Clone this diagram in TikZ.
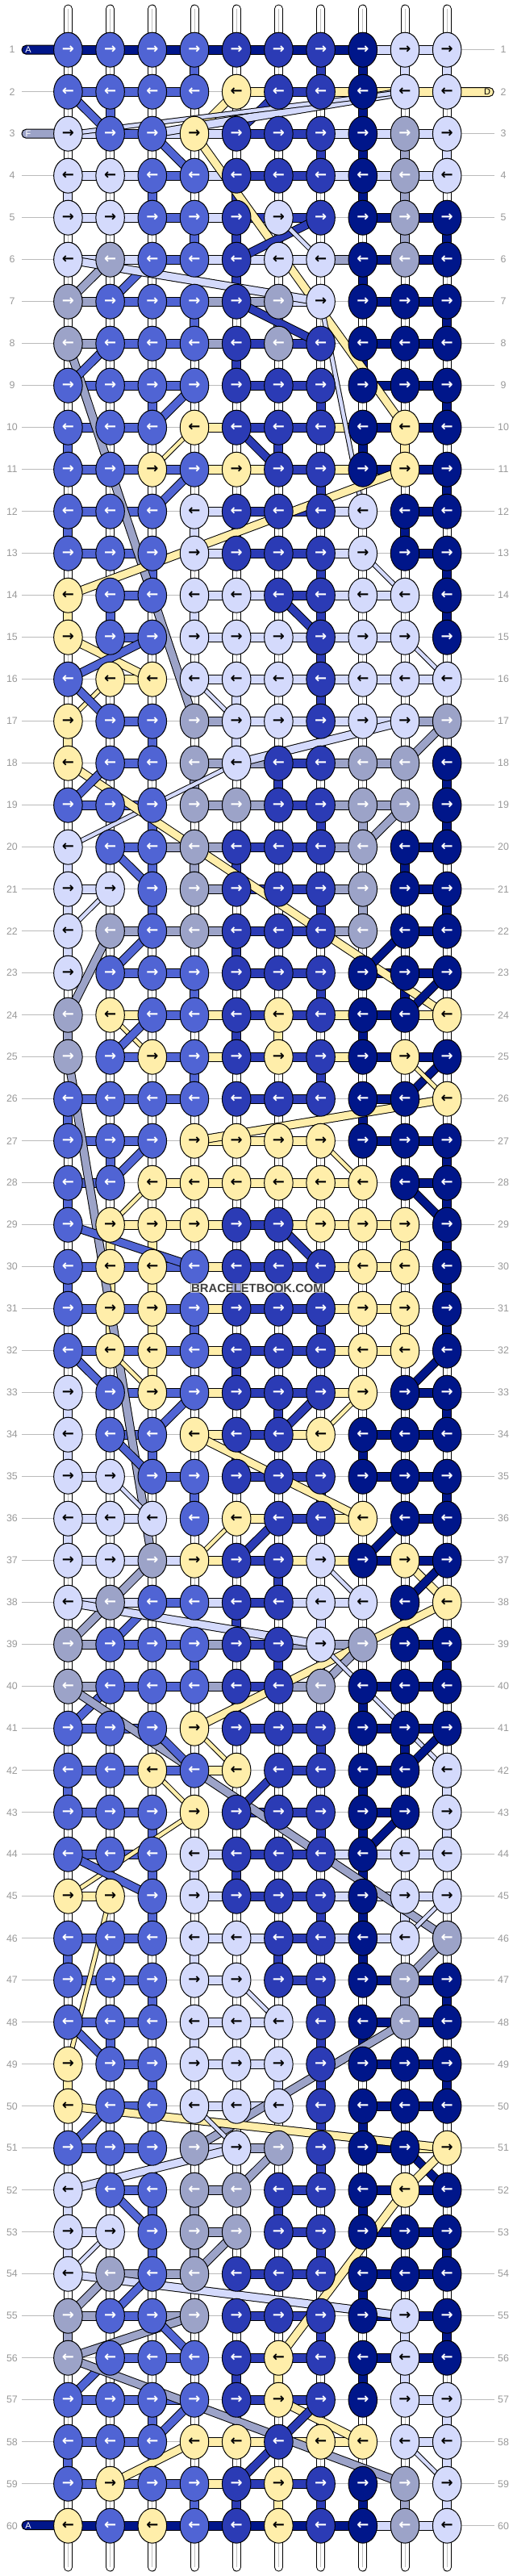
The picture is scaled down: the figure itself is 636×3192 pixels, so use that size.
\documentclass[tikz,border=0pt]{standalone}
\usepackage{fontspec}
\setmainfont{Liberation Sans}
\newfontfamily\arrowfont{DejaVu Sans}
\usetikzlibrary{shapes.geometric}
\pgfdeclarelayer{bg}
\pgfsetlayers{bg,main}
\definecolor{kN}{HTML}{00168A}
\definecolor{kD}{HTML}{2B3BB5}
\definecolor{kM}{HTML}{5064D4}
\definecolor{kL}{HTML}{D4DAFC}
\definecolor{kG}{HTML}{9CA3C8}
\definecolor{kY}{HTML}{FFEEAA}
\colorlet{aN}{white}\colorlet{aD}{white}\colorlet{aM}{white}\colorlet{aG}{white}
\colorlet{aL}{black}\colorlet{aY}{black}
\definecolor{guidegray}{HTML}{BBBBBB}
\definecolor{lblgray}{HTML}{999999}
\tikzset{
  knot/.style={ellipse, draw=black, line width=0.5pt, minimum width=17.75pt, minimum height=21.5pt, inner sep=0pt, font=\arrowfont\bfseries\fontsize{9}{9}\selectfont},
  hbar/.style={draw=black, line width=0.5pt, double distance=5pt},
  dbase/.style={draw=black, line width=0.5pt},
  guide/.style={draw=guidegray, line width=0.5pt},
  lbl/.style={text=lblgray, font=\fontsize{6.2}{7}\selectfont, inner sep=0pt},
  tablbl/.style={font=\fontsize{5.5}{6}\selectfont, inner sep=0pt},
  tabbox/.style={draw=black, line width=0.5pt, rounded corners=2.7pt},
}
\newcommand\krow[3]{%
  \pgfmathsetmacro\yy{61.7+(#1-1)*52}%
  \foreach \kk [count=\ci] in {#2}{%
    \coordinate (p-#1-\ci) at ({84.4+(\ci-1)*52.2},\yy);
    \expandafter\xdef\csname kc-#1-\ci\endcsname{\kk}}%
  \begin{pgfonlayer}{bg}
    \draw[guide] (27,\yy) -- (613,\yy);
    \foreach \bb [count=\ci] in {#3}{%
      \expandafter\xdef\csname bc-#1-\ci\endcsname{\bb}%
      \if X\bb\else
        \pgfmathtruncatemacro\nn{\ci+1}%
        \draw[hbar, double=k\bb] (p-#1-\ci) -- (p-#1-\nn);
      \fi}%
  \end{pgfonlayer}
  \foreach \kk [count=\ci] in {#2}{%
    \node[knot, fill=k\kk, text=a\kk] (k-#1-\ci) at (p-#1-\ci) {\ifodd#1 →\else ←\fi};}%
  \node[lbl] (ll-#1) at (15,\yy) {#1};
  \node[lbl] (rl-#1) at (624,\yy) {#1};
}
\begin{document}
\begin{tikzpicture}[x=0.5pt,y=-0.5pt]
\useasboundingbox (0,0) rectangle (636,3192);
\begin{pgfonlayer}{bg}
\fill[white] (0,0) rectangle (636,3192);
\foreach \ci in {1,...,10}{
  \coordinate (st-\ci) at ({84.4+(\ci-1)*52.2},11);
  \coordinate (sb-\ci) at ({84.4+(\ci-1)*52.2},3181);
  \draw[line width=5.5pt, black, line cap=round] (st-\ci) -- (sb-\ci);
  \draw[line width=4.5pt, white, line cap=round] (st-\ci) -- (sb-\ci);
  \draw[line width=0.4pt, black!25] (st-\ci) -- (sb-\ci);
}
\end{pgfonlayer}
\krow{1}{M,M,M,M,D,D,D,N,L,L}{N,N,N,N,N,N,N,L,L}
\krow{2}{M,M,M,M,Y,D,D,N,L,L}{M,M,M,X,Y,D,Y,Y,Y}
\krow{3}{L,M,M,Y,D,D,D,N,G,L}{L,M,L,L,D,D,L,L,L}
\krow{4}{L,L,M,M,D,D,D,N,G,L}{L,L,M,L,D,D,L,L,L}
\krow{5}{L,L,M,M,D,L,D,N,G,N}{L,L,M,L,D,D,X,N,N}
\krow{6}{L,G,M,M,D,L,L,N,G,N}{L,L,M,L,L,L,G,N,N}
\krow{7}{G,M,M,M,D,G,L,N,N,N}{G,M,M,G,G,L,X,N,N}
\krow{8}{G,M,M,M,D,G,D,N,N,N}{G,M,M,G,D,D,X,N,N}
\krow{9}{M,M,M,M,D,D,D,N,N,N}{M,M,M,X,D,D,X,N,N}
\krow{10}{M,M,M,Y,D,D,D,N,Y,N}{M,M,X,Y,D,D,Y,N,N}
\krow{11}{M,M,Y,M,Y,D,D,N,Y,N}{M,M,M,Y,Y,D,Y,N,N}
\krow{12}{M,M,M,L,D,D,D,L,N,N}{M,M,X,L,D,D,L,X,N}
\krow{13}{M,M,M,L,D,D,D,L,N,N}{M,M,X,L,D,D,L,X,N}
\krow{14}{Y,M,M,L,L,D,D,L,L,N}{X,M,X,L,L,D,L,L,X}
\krow{15}{Y,M,M,L,L,L,D,L,L,N}{X,M,X,L,L,L,L,L,X}
\krow{16}{M,Y,Y,L,L,L,D,L,L,L}{X,Y,X,L,L,L,L,L,L}
\krow{17}{Y,M,M,G,L,L,D,L,L,G}{X,M,X,G,L,L,L,L,G}
\krow{18}{Y,M,M,G,L,D,D,G,G,N}{X,M,X,G,G,D,G,G,X}
\krow{19}{M,M,M,G,G,D,D,G,G,N}{M,M,X,G,G,D,G,G,X}
\krow{20}{L,M,M,G,D,D,D,G,N,N}{X,M,G,G,D,D,G,X,N}
\krow{21}{L,L,M,G,D,D,D,G,N,N}{L,X,X,G,D,D,G,X,N}
\krow{22}{L,G,M,G,D,D,D,G,N,N}{X,G,G,G,D,D,G,X,N}
\krow{23}{L,M,M,M,D,D,D,N,N,N}{X,M,M,X,D,D,X,N,N}
\krow{24}{G,Y,M,M,D,Y,D,N,N,Y}{X,Y,M,Y,D,D,Y,N,Y}
\krow{25}{G,M,Y,M,D,Y,D,N,Y,N}{X,M,M,Y,D,D,Y,N,N}
\krow{26}{M,M,M,M,D,D,D,N,N,Y}{M,M,M,X,D,D,X,N,X}
\krow{27}{M,M,M,Y,Y,Y,Y,N,N,N}{M,M,X,Y,Y,Y,X,N,N}
\krow{28}{M,M,Y,Y,Y,Y,Y,Y,N,N}{M,X,Y,Y,Y,Y,Y,X,N}
\krow{29}{M,Y,Y,Y,D,D,Y,Y,Y,N}{X,Y,Y,Y,D,Y,Y,Y,X}
\krow{30}{M,Y,Y,M,D,D,D,Y,Y,N}{M,M,M,Y,D,D,Y,Y,X}
\krow{31}{M,Y,Y,M,D,D,D,Y,Y,N}{M,M,M,Y,D,D,Y,Y,X}
\krow{32}{M,Y,Y,M,D,D,D,Y,Y,N}{M,M,M,Y,D,D,Y,Y,X}
\krow{33}{L,M,Y,M,D,D,D,Y,N,N}{X,M,M,Y,D,D,Y,X,N}
\krow{34}{L,M,M,Y,D,D,Y,N,N,N}{X,M,X,Y,D,Y,X,N,N}
\krow{35}{L,L,M,M,D,D,D,N,N,N}{L,X,M,X,D,D,X,N,N}
\krow{36}{L,L,L,M,Y,D,D,Y,N,N}{L,L,X,X,Y,D,Y,X,N}
\krow{37}{L,L,G,Y,D,D,L,N,Y,N}{L,L,L,Y,D,Y,Y,N,N}
\krow{38}{L,G,M,M,D,D,L,L,N,Y}{L,L,M,L,D,L,L,X,X}
\krow{39}{G,M,M,M,D,D,L,G,N,N}{G,M,M,G,D,G,G,X,N}
\krow{40}{G,M,M,M,D,D,G,N,N,N}{G,M,M,G,D,G,X,N,N}
\krow{41}{M,M,M,Y,D,D,D,N,N,N}{M,M,X,X,D,D,X,N,N}
\krow{42}{M,M,Y,M,Y,D,D,N,N,L}{M,M,M,Y,X,D,X,N,X}
\krow{43}{M,M,M,Y,D,D,D,N,N,L}{M,M,X,X,D,D,X,N,X}
\krow{44}{M,M,M,L,D,D,D,N,L,L}{M,M,X,L,D,D,L,L,L}
\krow{45}{Y,Y,M,L,D,D,D,N,L,L}{Y,X,X,L,D,D,L,L,L}
\krow{46}{M,M,M,L,L,D,D,N,L,G}{M,M,X,L,L,D,L,L,X}
\krow{47}{M,M,M,L,L,D,D,N,G,N}{M,M,X,L,X,D,X,N,N}
\krow{48}{M,M,M,L,L,L,D,N,G,N}{M,M,X,L,L,X,X,N,N}
\krow{49}{Y,M,M,L,L,L,D,N,N,N}{X,M,X,L,L,X,X,N,N}
\krow{50}{Y,M,M,L,L,L,D,N,N,N}{X,M,X,L,L,X,X,N,N}
\krow{51}{M,M,M,G,L,G,D,N,N,Y}{M,M,X,L,G,X,X,N,Y}
\krow{52}{L,M,M,G,G,D,D,N,Y,N}{X,M,X,G,X,D,X,N,N}
\krow{53}{L,L,M,G,G,D,D,N,N,N}{L,X,X,G,X,D,X,N,N}
\krow{54}{L,G,M,G,D,D,D,N,N,N}{X,G,G,X,D,D,X,N,N}
\krow{55}{G,M,M,G,D,D,D,N,L,N}{G,M,G,X,D,D,X,N,N}
\krow{56}{G,M,M,M,D,Y,D,N,L,N}{X,M,M,X,D,D,X,N,N}
\krow{57}{M,M,M,M,D,Y,D,N,L,L}{M,M,M,X,D,D,X,X,L}
\krow{58}{M,M,M,Y,Y,D,Y,Y,L,L}{M,M,X,Y,Y,Y,Y,X,L}
\krow{59}{M,Y,M,M,D,Y,D,N,G,L}{M,M,M,Y,D,D,X,X,X}
\krow{60}{Y,M,Y,M,D,Y,D,N,G,L}{N,N,N,N,N,N,N,L,L}
% vertical string segments between rows
\begin{pgfonlayer}{bg}
\foreach \r in {2,...,60}{%
  \pgfmathtruncatemacro\rp{\r-1}%
  \foreach \ci in {1,...,10}{%
    \edef\cur{\csname kc-\r-\ci\endcsname}%
    \edef\up{\csname kc-\rp-\ci\endcsname}%
    \ifodd\r\relax
      \ifnum\ci=1 \def\inc{X}\else\pgfmathtruncatemacro\bi{\ci-1}\edef\inc{\csname bc-\r-\bi\endcsname}\fi
    \else
      \ifnum\ci=10 \def\inc{X}\else\edef\inc{\csname bc-\r-\ci\endcsname}\fi
    \fi
    \ifx\cur\up\ifx\inc\cur\else
      \draw[hbar, double=k\cur] (p-\rp-\ci) -- (p-\r-\ci);
    \fi\fi
  }%
}
% diagonal strings
\foreach \fa/\fb/\cl/\dd in {
 2-1/3-2/M/4.5pt, 3-3/4-4/M/4.5pt, 2-5/3-4/Y/4.5pt, 3-4/10-9/Y/4.5pt, 2-6/3-5/D/4.5pt, 3-3/2-9/L/4.5pt, 3-1/2-9/L/2.2pt,
 5-7/6-5/D/4.5pt, 5-6/6-7/L/2.2pt, 6-2/7-1/G/4.5pt, 6-3/7-2/M/4.5pt, 6-1/7-7/L/4.5pt, 7-5/8-7/D/4.5pt,
 7-7/12-8/L/2.2pt, 8-1/17-4/G/4.5pt, 8-2/9-1/M/4.5pt, 9-4/10-3/M/4.5pt, 10-4/11-3/Y/2.2pt, 10-5/11-6/D/4.5pt,
 11-4/12-3/M/4.5pt, 11-9/14-1/Y/4.5pt, 13-8/14-9/L/2.2pt, 15-1/16-3/Y/4.5pt, 16-2/17-1/Y/2.2pt, 15-3/16-1/M/4.5pt,
 16-1/17-2/M/4.5pt, 14-6/15-7/D/4.5pt, 15-9/16-10/L/2.2pt, 16-4/17-5/L/2.2pt, 17-9/18-5/L/4.5pt, 18-5/20-1/L/2.2pt,
 17-10/18-9/G/4.5pt, 18-1/24-10/Y/4.5pt, 18-2/19-1/M/4.5pt, 19-9/20-8/G/4.5pt, 20-2/21-3/M/4.5pt, 21-2/22-1/L/2.2pt,
 22-2/24-1/G/4.5pt, 22-3/23-2/M/4.5pt, 22-9/23-8/N/4.5pt, 23-10/24-9/N/4.5pt, 24-2/25-3/Y/2.2pt, 24-3/25-2/M/4.5pt,
 25-10/26-9/N/4.5pt, 25-9/26-10/Y/2.2pt, 25-1/37-3/G/4.5pt, 27-3/28-2/M/4.5pt, 28-3/29-2/Y/2.2pt, 26-10/27-4/Y/4.5pt,
 27-7/28-8/Y/2.2pt, 28-9/29-10/N/4.5pt, 29-1/30-4/M/4.5pt, 29-6/30-7/D/4.5pt, 32-1/33-2/M/4.5pt, 32-2/33-3/Y/2.2pt,
 33-4/34-3/M/4.5pt, 33-7/34-6/D/4.5pt, 33-8/34-7/Y/2.2pt, 32-10/33-9/N/4.5pt, 34-2/35-3/M/4.5pt, 34-4/36-8/Y/4.5pt,
 35-2/36-3/L/2.2pt, 36-5/37-4/Y/2.2pt, 36-6/37-5/D/4.5pt, 36-9/37-8/N/4.5pt, 37-3/38-2/G/4.5pt, 37-7/38-8/L/2.2pt,
 37-9/38-10/Y/4.5pt, 37-10/38-9/N/4.5pt, 38-2/39-1/G/4.5pt, 38-3/39-2/M/4.5pt, 38-1/39-7/L/4.5pt, 38-10/41-4/Y/4.5pt,
 39-8/40-7/G/4.5pt, 39-7/42-10/L/2.2pt, 40-2/41-1/M/4.5pt, 40-1/46-10/G/4.5pt, 42-3/43-4/Y/2.2pt, 41-4/42-5/Y/2.2pt,
 41-3/42-4/M/4.5pt, 42-6/43-5/D/4.5pt, 41-10/42-9/N/4.5pt, 43-9/44-8/N/4.5pt, 43-4/45-1/Y/2.2pt, 44-1/45-3/M/4.5pt,
 45-2/49-1/Y/2.2pt, 45-10/46-9/L/2.2pt, 46-10/47-9/G/4.5pt, 47-5/48-6/L/2.2pt, 48-1/49-2/M/4.5pt, 48-9/51-4/G/4.5pt,
 50-1/51-10/Y/4.5pt, 50-2/51-1/M/4.5pt, 51-5/52-1/L/4.5pt, 50-4/51-5/L/2.2pt, 51-6/52-5/G/4.5pt, 51-9/52-10/N/4.5pt,
 51-10/52-9/Y/4.5pt, 52-2/53-3/M/4.5pt, 52-9/56-6/Y/4.5pt, 53-2/54-1/L/2.2pt, 53-5/54-4/G/4.5pt, 54-1/55-9/L/4.5pt,
 54-2/55-1/G/4.5pt, 54-3/55-2/M/4.5pt, 55-4/56-1/G/4.5pt, 55-3/56-4/M/4.5pt, 56-2/57-1/M/4.5pt, 56-1/59-9/G/4.5pt,
 57-6/58-8/Y/4.5pt, 57-7/58-6/D/4.5pt, 57-4/58-3/M/4.5pt, 58-6/59-5/D/4.5pt, 58-4/59-2/Y/4.5pt, 58-9/59-10/L/2.2pt}{%
  \draw[dbase, double distance=\dd, double=k\cl] (p-\fa) -- (p-\fb);
}
\draw[tabbox, fill=kN] (27,56.2) rectangle (80,67.2);
\draw[tabbox, fill=kY] (540,108.5) rectangle (612,119.5);
\draw[tabbox, fill=kG] (27,160.2) rectangle (80,171.2);
\draw[tabbox, fill=kN] (27,3123.7) rectangle (80,3134.7);
\end{pgfonlayer}
\node[tablbl, text=white] (tabA) at (35,61.7) {A};
\node[tablbl, text=black] (tabD) at (604,114) {D};
\node[tablbl, text=white] (tabF) at (35,165.7) {F};
\node[tablbl, text=white] (tabA2) at (35,3129.2) {A};
\node[font=\bfseries\fontsize{7.4}{8}\selectfont, text=black!75, fill=white, fill opacity=0.6, text opacity=1, inner sep=0.6pt] (wm) at (319,1596) {BRACELETBOOK.COM};
\end{tikzpicture}
\end{document}
